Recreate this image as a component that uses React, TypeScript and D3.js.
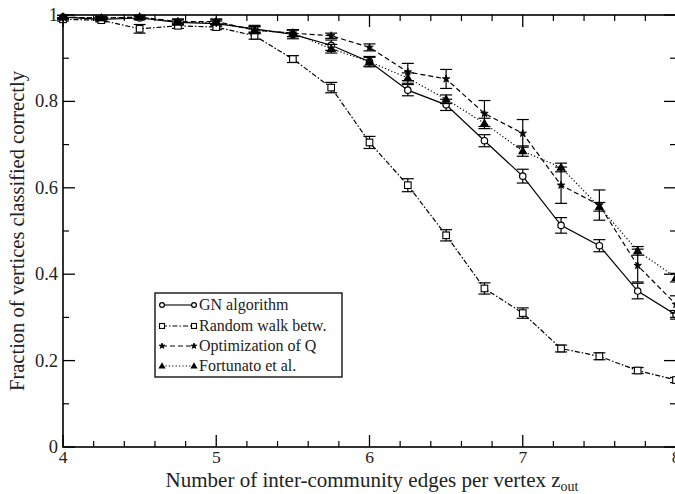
import React from "react";
import * as d3 from "d3";

const xs = [4, 4.25, 4.5, 4.75, 5, 5.25, 5.5, 5.75, 6, 6.25, 6.5, 6.75, 7, 7.25, 7.5, 7.75, 8];

const gnVals = [0.995, 0.99, 0.993, 0.983, 0.98, 0.968, 0.955, 0.93, 0.892, 0.826, 0.792, 0.709, 0.627, 0.513, 0.466, 0.361, 0.306];
const gnErr = [0.004, 0.004, 0.004, 0.006, 0.006, 0.008, 0.01, 0.012, 0.012, 0.013, 0.013, 0.014, 0.016, 0.018, 0.014, 0.018, 0.01];

const rwVals = [0.99, 0.988, 0.968, 0.975, 0.972, 0.952, 0.898, 0.832, 0.705, 0.606, 0.49, 0.367, 0.31, 0.228, 0.21, 0.177, 0.155];
const rwErr = [0.004, 0.004, 0.01, 0.006, 0.006, 0.008, 0.008, 0.012, 0.014, 0.015, 0.013, 0.013, 0.012, 0.008, 0.008, 0.007, 0.006];

const oqVals = [0.995, 0.993, 0.995, 0.985, 0.985, 0.965, 0.958, 0.952, 0.925, 0.868, 0.852, 0.772, 0.726, 0.606, 0.56, 0.42, 0.33];
const oqErr = [0.004, 0.004, 0.004, 0.006, 0.006, 0.008, 0.008, 0.006, 0.008, 0.02, 0.022, 0.03, 0.032, 0.042, 0.035, 0.038, 0.02];

const foVals = [0.995, 0.993, 0.995, 0.983, 0.983, 0.965, 0.958, 0.922, 0.892, 0.854, 0.805, 0.749, 0.685, 0.647, 0.556, 0.454, 0.392];
const foErr = [0.004, 0.004, 0.004, 0.006, 0.006, 0.008, 0.008, 0.01, 0.01, 0.012, 0.01, 0.012, 0.012, 0.01, 0.01, 0.01, 0.01];

const legendLabels = ["GN algorithm", "Random walk betw.", "Optimization of Q", "Fortunato et al."];
const xMajor = [4, 5, 6, 7, 8];
const yMajor = [0, 0.2, 0.4, 0.6, 0.8, 1];
const yLabels = ["0", "0.2", "0.4", "0.6", "0.8", "1"];

const W = 675, H = 494;
const L = 63, R = 676, T = 15, B = 447;
const FONT = "'Liberation Serif', 'Times New Roman', serif";

type Series = { vals: number[]; err: number[]; dash: string; marker: string };
const series: Series[] = [
  { vals: gnVals, err: gnErr, dash: "none", marker: "circle" },
  { vals: rwVals, err: rwErr, dash: "5,2,1.5,2", marker: "square" },
  { vals: oqVals, err: oqErr, dash: "5,3", marker: "star" },
  { vals: foVals, err: foErr, dash: "1.2,2.2", marker: "triangle" },
];

function Marker({ type, cx, cy, k = 1 }: { type: string; cx: number; cy: number; k?: number }) {
  if (type === "circle") return <circle cx={cx} cy={cy} r={3.2 * k} fill="white" stroke="black" strokeWidth={1.2} />;
  if (type === "square") return <rect x={cx - 3.3 * k} y={cy - 3.3 * k} width={6.6 * k} height={6.6 * k} fill="white" stroke="black" strokeWidth={1.1} />;
  if (type === "star") {
    const p = d3.symbol().type(d3.symbolStar).size(18 * k * k)();
    return <path d={p || ""} transform={`translate(${cx},${cy})`} fill="black" stroke="black" strokeWidth={0.8} />;
  }
  const p = d3.symbol().type(d3.symbolTriangle).size(40 * k * k)();
  return <path d={p || ""} transform={`translate(${cx},${cy + 0.5})`} fill="black" />;
}

export default function App() {
  const x = d3.scaleLinear().domain([4, 8]).range([L, R]);
  const y = d3.scaleLinear().domain([0, 1]).range([B, T]);
  const xMinor = d3.range(4, 8.001, 0.2).filter((v) => Math.abs(v - Math.round(v)) > 0.01);
  const yMinor = d3.range(0.1, 1, 0.2);

  const line = d3.line<number>().x((_, i) => x(xs[i])).y((d) => y(d));

  const legX0 = 162, legX1 = 194, legY = [305, 326, 346, 366];

  return (
    <svg width={W} height={H} style={{ position: "fixed", left: 0, top: 0, background: "white" }} fontFamily={FONT}>
      <rect x={0} y={0} width={W} height={H} fill="white" />
      {series.map((s, si) => (
        <g key={si}>
          <path d={line(s.vals) || ""} fill="none" stroke="black" strokeWidth={1.2} strokeDasharray={s.dash} />
          {s.vals.map((v, i) => {
            const cx = x(xs[i]);
            const y1 = y(v + s.err[i]), y2 = y(v - s.err[i]);
            return (
              <g key={i} stroke="black" strokeWidth={1.2}>
                <line x1={cx} x2={cx} y1={y1} y2={y2} />
                <line x1={cx - 6} x2={cx + 6} y1={y1} y2={y1} />
                <line x1={cx - 6} x2={cx + 6} y1={y2} y2={y2} />
              </g>
            );
          })}
          {s.vals.map((v, i) => (
            <Marker key={"m" + i} type={s.marker} cx={x(xs[i])} cy={y(v)} />
          ))}
        </g>
      ))}
      <rect x={L} y={T} width={R - L} height={B - T} fill="none" stroke="black" strokeWidth={1.6} />
      {xMajor.map((v) => (
        <g key={"xm" + v} stroke="black" strokeWidth={1.3}>
          <line x1={x(v)} x2={x(v)} y1={B} y2={B - 12} />
          <line x1={x(v)} x2={x(v)} y1={T} y2={T + 12} />
        </g>
      ))}
      {xMinor.map((v) => (
        <g key={"xn" + v} stroke="black" strokeWidth={1.2}>
          <line x1={x(v)} x2={x(v)} y1={B} y2={B - 6} />
          <line x1={x(v)} x2={x(v)} y1={T} y2={T + 6} />
        </g>
      ))}
      {yMajor.map((v) => (
        <g key={"ym" + v} stroke="black" strokeWidth={1.3}>
          <line x1={L} x2={L + 12} y1={y(v)} y2={y(v)} />
          <line x1={R} x2={R - 12} y1={y(v)} y2={y(v)} />
        </g>
      ))}
      {yMinor.map((v) => (
        <g key={"yn" + v} stroke="black" strokeWidth={1.2}>
          <line x1={L} x2={L + 6} y1={y(v)} y2={y(v)} />
          <line x1={R} x2={R - 6} y1={y(v)} y2={y(v)} />
        </g>
      ))}
      {xMajor.map((v) => (
        <text key={"xl" + v} x={x(v)} y={B + 16} textAnchor="middle" fontSize={17.5} fill="#222">{v}</text>
      ))}
      {yMajor.map((v, i) => (
        <text key={"yl" + v} x={L - 5} y={y(v) + 6} textAnchor="end" fontSize={18.5} fill="#222">{yLabels[i]}</text>
      ))}
      <text x={372} y={487} textAnchor="middle" fontSize={21} fill="#222">
        Number of inter-community edges per vertex z<tspan fontSize={14} dy={4}>out</tspan>
      </text>
      <text transform={`translate(24,${(T + B) / 2}) rotate(-90)`} textAnchor="middle" fontSize={20.5} fill="#222">
        Fraction of vertices classified correctly
      </text>
      <rect x={155} y={293} width={187} height={84} fill="white" stroke="black" strokeWidth={1.3} />
      {series.map((s, i) => (
        <g key={"lg" + i}>
          <line x1={legX0} x2={legX1} y1={legY[i]} y2={legY[i]} stroke="black" strokeWidth={1.1} strokeDasharray={s.dash} />
          <Marker type={s.marker} cx={legX0} cy={legY[i]} k={0.75} />
          <Marker type={s.marker} cx={legX1} cy={legY[i]} k={0.75} />
          <text x={199} y={legY[i] + 5} fontSize={16} fill="#222">{legendLabels[i]}</text>
        </g>
      ))}
    </svg>
  );
}
